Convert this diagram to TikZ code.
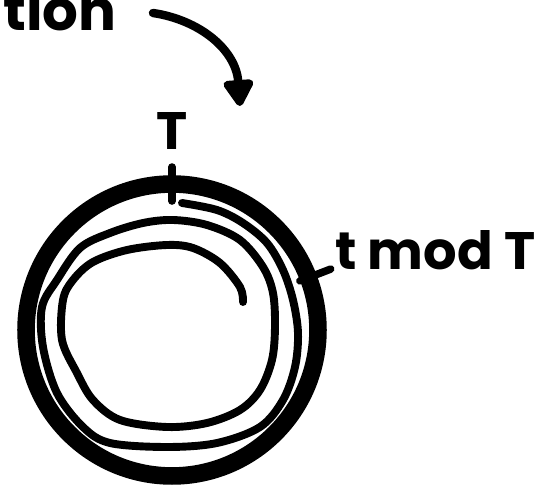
\documentclass[tikz,border=0pt]{standalone}
\usepackage{fontspec}
\setmainfont{Poppins}
\usepackage{tikz}
\usetikzlibrary{arrows.meta, positioning, calc}

\begin{document}
\begin{tikzpicture}[
    x=0.02cm, y=-0.02cm,
    label/.style={font=\bfseries\fontsize{30}{30}\selectfont, inner sep=0pt},
    rim/.style={circle, draw, line width=10pt, minimum size=5.84cm, outer sep=0pt},
    tick/.style={line width=4.3pt, line cap=round},
    spiral/.style={line width=4.5pt, line cap=round, line join=round},
    arrow/.style={-{Triangle[length=17pt, width=19pt, round]}, line width=4.8pt, line cap=round},
]
    \useasboundingbox (0,0) rectangle (535,489);

    % Cut-off caption and arrow
    \node[label, anchor=base west, font=\bfseries\fontsize{32}{32}\selectfont] (caption) at (3,31) {tion};
    \coordinate (arrowstart) at (153,13);
    \coordinate (arrowend) at (240,106);
    \draw[arrow] (arrowstart) .. controls (200,20) and (236,50) .. (arrowend);

    % Period circle
    \node[rim] (clock) at (172,330) {};

    % Tick at the top, labelled T
    \coordinate (toptickin) at ($(clock.north)+(0,17)$);
    \coordinate (toptickout) at ($(clock.north)+(0,-17)$);
    \draw[tick] (toptickin) -- (toptickout);
    \node[label, above=10pt of toptickout] (period) {T};

    % Tick on the right, labelled t mod T
    \coordinate (phasein) at ($(clock.center)+(-21:137)$);
    \coordinate (phaseout) at ($(clock.center)+(-21:170)$);
    \draw[tick] (phasein) -- (phaseout);
    \node[label, anchor=base west] (phase) at (335,270) {t mod T};

    % Spiral of elapsed time
    \draw[spiral] plot[smooth, tension=0.55] coordinates {
        (182,203) (217,210) (243,223) (267,243) (283,270) (293,300)
        (298,333) (295,367) (283,400) (260,427) (217,443) (167,447)
        (110,443) (83,427) (57,393) (43,347) (42,307) (57,280)
        (80,248) (110,233) (143,223) (173,220) (207,225) (240,240)
        (263,267) (273,293) (275,327) (272,360) (260,390) (240,410)
        (207,423) (167,427) (120,420) (93,400) (77,373) (62,340)
        (63,300) (73,280) (93,262) (127,250) (167,245) (193,248)
        (220,263) (240,287) (243,302)};

\end{tikzpicture}
\end{document}
